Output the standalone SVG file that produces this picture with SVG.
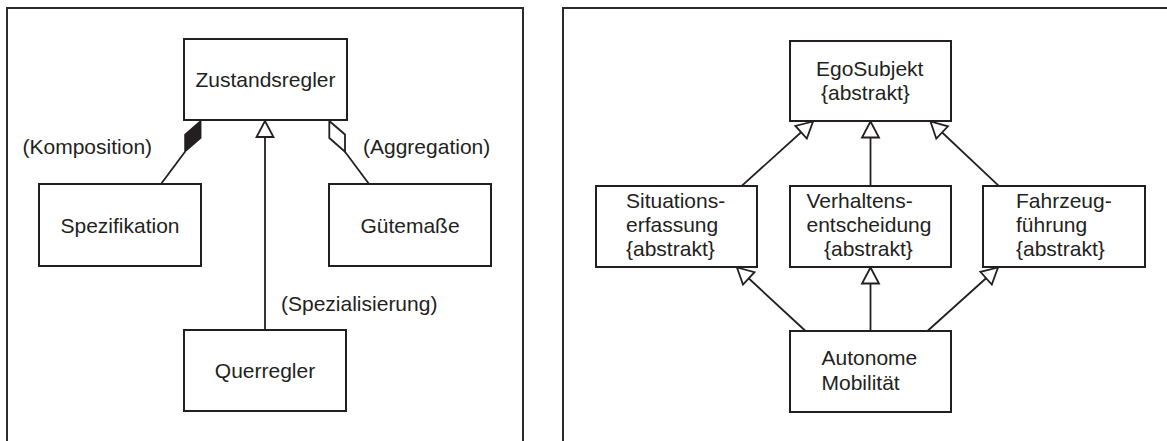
<svg xmlns="http://www.w3.org/2000/svg" width="1167" height="441" viewBox="0 0 1167 441">
  <style>
    .frame { fill: none; stroke: #2b2b2b; stroke-width: 2; }
    .box { fill: #ffffff; stroke: #231f20; stroke-width: 2; }
    .lbl { font-family: "Liberation Sans", Arial, sans-serif; font-size: 21px; fill: #231f20; }
    .mid { text-anchor: middle; }
    .edge { fill: none; stroke: #231f20; stroke-width: 1.8; }
    .head { fill: #ffffff; stroke: #231f20; stroke-width: 1.8; stroke-linejoin: miter; }
  </style>
  <defs>
    <!-- hollow generalization arrowhead, tip at the line end -->
    <marker id="gen" markerUnits="userSpaceOnUse" orient="auto" refX="0" refY="0"
            markerWidth="40" markerHeight="40" overflow="visible">
      <path class="head" d="M 0 0 L -16 -8.5 L -16 8.5 Z"/>
    </marker>
  </defs>
  <rect width="1167" height="441" fill="#ffffff"/>

  <!-- panel frames -->
  <rect class="frame" x="7" y="8" width="516" height="450"/>
  <rect class="frame" x="563" y="8" width="620" height="450"/>

  <!-- connectors -->
  <g id="connectors">
    <!-- left panel -->
    <line class="edge" x1="265" y1="330" x2="265" y2="121" marker-end="url(#gen)"/>
    <line class="edge" x1="161" y1="184" x2="185" y2="151.7"/>
    <polygon points="200.7,121 200.7,138 185,151.7 185,134.5" fill="#231f20" stroke="#231f20" stroke-width="1.5"/>
    <line class="edge" x1="369" y1="184" x2="345" y2="151.7"/>
    <polygon points="329.3,121 329.3,138 345,151.7 345,134.5" class="head"/>
    <!-- right panel -->
    <line class="edge" x1="742" y1="185.7" x2="813" y2="121.5" marker-end="url(#gen)"/>
    <line class="edge" x1="870.5" y1="185.7" x2="870.5" y2="121.5" marker-end="url(#gen)"/>
    <line class="edge" x1="998.5" y1="185.7" x2="930.5" y2="121.5" marker-end="url(#gen)"/>
    <line class="edge" x1="805" y1="330.5" x2="737" y2="267.5" marker-end="url(#gen)"/>
    <line class="edge" x1="870.5" y1="330.5" x2="870.5" y2="267.5" marker-end="url(#gen)"/>
    <line class="edge" x1="928" y1="330.5" x2="998" y2="267.5" marker-end="url(#gen)"/>
  </g>

  <!-- connector labels -->
  <g id="edge-labels">
    <text class="lbl" x="22.5" y="154">(Komposition)</text>
    <text class="lbl" x="363" y="154">(Aggregation)</text>
    <text class="lbl" x="281" y="311">(Spezialisierung)</text>
  </g>

  <!-- left panel nodes -->
  <g id="zustandsregler">
    <rect class="box" x="184" y="39" width="163" height="81"/>
    <text class="lbl mid" x="265.5" y="87">Zustandsregler</text>
  </g>
  <g id="spezifikation">
    <rect class="box" x="39" y="184" width="162" height="82"/>
    <text class="lbl mid" x="120" y="233">Spezifikation</text>
  </g>
  <g id="guetemasse">
    <rect class="box" x="329" y="184" width="162" height="82"/>
    <text class="lbl mid" x="410" y="233">Gütemaße</text>
  </g>
  <g id="querregler">
    <rect class="box" x="184" y="330" width="162" height="81"/>
    <text class="lbl mid" x="265" y="378">Querregler</text>
  </g>

  <!-- right panel nodes -->
  <g id="egosubjekt">
    <rect class="box" x="790" y="41" width="161" height="80"/>
    <text class="lbl" x="816" y="76">EgoSubjekt</text>
    <text class="lbl" x="821" y="100">{abstrakt}</text>
  </g>
  <g id="situationserfassung">
    <rect class="box" x="596" y="186" width="161" height="81"/>
    <text class="lbl" x="626" y="208">Situations-</text>
    <text class="lbl" x="626" y="232">erfassung</text>
    <text class="lbl" x="626" y="256">{abstrakt}</text>
  </g>
  <g id="verhaltensentscheidung">
    <rect class="box" x="790" y="186" width="161" height="81"/>
    <text class="lbl" x="806.5" y="208">Verhaltens-</text>
    <text class="lbl" x="806.5" y="232">entscheidung</text>
    <text class="lbl" x="824" y="256">{abstrakt}</text>
  </g>
  <g id="fahrzeugfuehrung">
    <rect class="box" x="983" y="186" width="162" height="81"/>
    <text class="lbl" x="1016" y="208">Fahrzeug-</text>
    <text class="lbl" x="1016" y="232">führung</text>
    <text class="lbl" x="1016" y="256">{abstrakt}</text>
  </g>
  <g id="autonome-mobilitaet">
    <rect class="box" x="790" y="331" width="161" height="81"/>
    <text class="lbl" x="821.5" y="365">Autonome</text>
    <text class="lbl" x="821.5" y="390">Mobilität</text>
  </g>
</svg>
